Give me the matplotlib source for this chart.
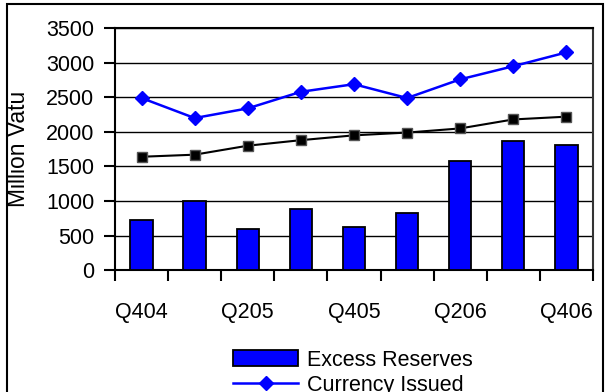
import numpy as np
import matplotlib
matplotlib.use("Agg")
import matplotlib.pyplot as plt
from matplotlib.patches import Rectangle

plt.rcParams['font.family'] = ['Liberation Sans Narrow', 'Liberation Sans', 'DejaVu Sans']

quarters = ["Q404", "Q105", "Q205", "Q305", "Q405", "Q106", "Q206", "Q306", "Q406"]
excess_reserves = [720, 1000, 600, 890, 630, 830, 1580, 1870, 1810]
currency_issued = [2490, 2200, 2340, 2580, 2690, 2490, 2760, 2950, 3150]
other_series = [1640, 1670, 1800, 1880, 1950, 1990, 2050, 2180, 2220]

fs = 15.5

fig = plt.figure(figsize=(6.1, 3.92), dpi=100)
ax = fig.add_axes([0.1885, 0.311, 0.7835, 0.617])

x = np.arange(len(quarters))
bars = ax.bar(x, excess_reserves, width=0.42, color="#0000FF", edgecolor="black",
              linewidth=1.3, label="Excess Reserves", zorder=3)
line_ci, = ax.plot(x, currency_issued, color="#0000FF", lw=1.8, marker="D", markersize=7,
                   label="Currency Issued", zorder=4)
ax.plot(x, other_series, color="black", lw=1.5, marker="s", markersize=7,
        markerfacecolor="black", markeredgecolor="#555555", zorder=4)

ax.set_xlim(-0.5, len(quarters) - 0.5)
ax.set_ylim(0, 3500)
ax.set_yticks(np.arange(0, 3501, 500))
ax.yaxis.grid(True, color="black", lw=1.0, zorder=0)
ax.set_axisbelow(True)

# boundaries get tick marks, every other centre gets a label
ax.set_xticks(np.arange(-0.5, len(quarters), 1.0))
ax.set_xticklabels([])
ax.set_xticks(x[::2], minor=True)
ax.set_xticklabels(quarters[::2], minor=True)
ax.tick_params(axis="x", which="major", direction="out", length=8, width=1.5)
ax.tick_params(axis="x", which="minor", length=0, pad=23, labelsize=fs)
ax.tick_params(axis="y", direction="out", length=8, width=1.5, labelsize=fs, pad=7)

for s in ax.spines.values():
    s.set_linewidth(1.5)
ax.spines["right"].set_color("#333333")

ax.set_ylabel("Million Vatu", fontsize=fs + 1)
ax.yaxis.set_label_coords(-0.178, 0.5)

fig.legend([bars, line_ci], ["Excess Reserves", "Currency Issued"],
           loc="upper left", bbox_to_anchor=(0.365, 0.135), frameon=False,
           fontsize=fs, handlelength=3.0, handleheight=0.75,
           labelspacing=0.2, handletextpad=0.4, borderpad=0)

fig.patches.append(Rectangle((0.011, -0.1), 0.978, 1.09, transform=fig.transFigure,
                             fill=False, edgecolor="black", lw=1.5))

fig.savefig("out.png", dpi=100)
